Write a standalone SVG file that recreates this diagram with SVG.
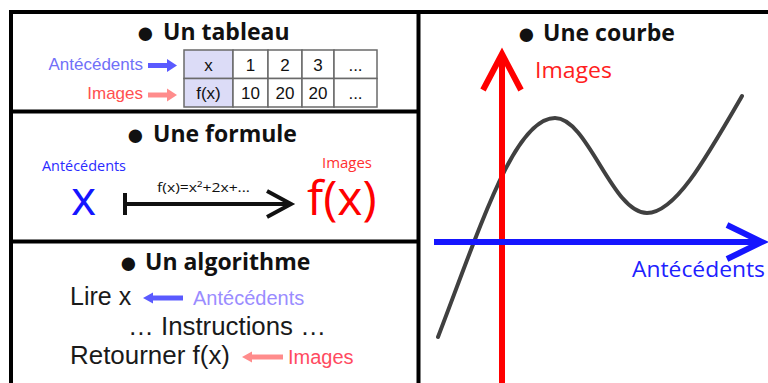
<svg xmlns="http://www.w3.org/2000/svg" width="768" height="383" viewBox="0 0 768 383">
<style>
.frame{fill:none;stroke:#000;stroke-width:4}
.title{font-family:"Open Sans",sans-serif;font-weight:700;font-size:23px;fill:#111}
.bul{font-family:"Liberation Sans",sans-serif;font-weight:400;font-size:31px}
.cell{fill:#fff;stroke:#6a6a6a;stroke-width:1.5}
.cellh{fill:#dcdcf7;stroke:#6a6a6a;stroke-width:1.5}
.ct{font-family:"Liberation Sans",Arial,sans-serif;font-size:17px;fill:#111;text-anchor:middle}
.ar{font-family:"Liberation Sans",Arial,sans-serif}
.os{font-family:"Open Sans",sans-serif}
.algo{font-family:"Liberation Sans",Arial,sans-serif;font-size:25px;fill:#1a1a1a}
</style>

<g id="frame">
<path class="frame" d="M11,383 V12 H768"/>
<line class="frame" x1="418.5" y1="12" x2="418.5" y2="383"/>
<line class="frame" x1="11" y1="111.5" x2="418.5" y2="111.5"/>
<line class="frame" x1="11" y1="241.5" x2="418.5" y2="241.5"/>
</g>

<g id="tableau">
<text class="title" x="136" y="43"><tspan class="bul">●</tspan><tspan x="163" y="40">Un tableau</tspan></text>
<g id="table">
<rect class="cellh" x="184" y="50" width="49" height="28.5"/>
<rect class="cellh" x="184" y="78.5" width="49" height="28.5"/>
<rect class="cell" x="233" y="50" width="35" height="28.5"/>
<rect class="cell" x="268" y="50" width="34" height="28.5"/>
<rect class="cell" x="302" y="50" width="32" height="28.5"/>
<rect class="cell" x="334" y="50" width="43" height="28.5"/>
<rect class="cell" x="233" y="78.5" width="35" height="28.5"/>
<rect class="cell" x="268" y="78.5" width="34" height="28.5"/>
<rect class="cell" x="302" y="78.5" width="32" height="28.5"/>
<rect class="cell" x="334" y="78.5" width="43" height="28.5"/>
<text class="ct" x="208.5" y="71">x</text>
<text class="ct" x="250.5" y="71">1</text>
<text class="ct" x="285" y="71">2</text>
<text class="ct" x="318" y="71">3</text>
<text class="ct" x="355.5" y="71" font-size="13">...</text>
<text class="ct" x="208.5" y="99">f(x)</text>
<text class="ct" x="250.5" y="99">10</text>
<text class="ct" x="285" y="99">20</text>
<text class="ct" x="318" y="99">20</text>
<text class="ct" x="355.5" y="99" font-size="13">...</text>
</g>
<text class="ar" x="143" y="70" font-size="17" fill="#7070f8" text-anchor="end">Antécédents</text>
<text class="ar" x="143" y="99" font-size="17" fill="#ff5050" text-anchor="end">Images</text>
</g>

<g id="formule">
<text class="title" x="126" y="145"><tspan class="bul">●</tspan><tspan x="153" y="142">Une formule</tspan></text>
<text class="os" x="42" y="171" font-size="14" fill="#2a2aff" textLength="84" lengthAdjust="spacingAndGlyphs">Antécédents</text>
<text class="os" x="71" y="215" font-size="48" fill="#1515ff">x</text>
<text class="os" x="322" y="168" font-size="14" fill="#ff3030" textLength="50" lengthAdjust="spacingAndGlyphs">Images</text>
<text class="os" x="307" y="215" font-size="48" fill="#ff0000">f(x)</text>
<text class="os" x="157" y="192" font-size="13" fill="#111" textLength="93" lengthAdjust="spacingAndGlyphs">f(x)=x²+2x+...</text>
</g>

<g id="algorithme">
<text class="title" x="119" y="273"><tspan class="bul">●</tspan><tspan x="145" y="270">Un algorithme</tspan></text>
<text class="algo" x="70" y="305">Lire x</text>
<text class="algo" x="128" y="335" textLength="198" lengthAdjust="spacingAndGlyphs">… Instructions …</text>
<text class="algo" x="70" y="364" textLength="160" lengthAdjust="spacingAndGlyphs">Retourner f(x)</text>
<text class="ar" x="193" y="305" font-size="20" fill="#9a8cff">Antécédents</text>
<text class="ar" x="288" y="364" font-size="20" fill="#ff4a60">Images</text>
</g>

<g id="courbe">
<text class="title" x="517" y="44"><tspan class="bul">●</tspan><tspan x="543" y="41">Une courbe</tspan></text>
<text class="os" x="535" y="78" font-size="21" fill="#ff2020" textLength="77" lengthAdjust="spacingAndGlyphs">Images</text>
<text class="os" x="632" y="277" font-size="22" fill="#2020ff" textLength="133" lengthAdjust="spacingAndGlyphs">Antécédents</text>
<path d="M438,337 C482,222 515,118 555,118 C588,118 612,213 647,213 C675,213 705,160 742,96" fill="none" stroke="#404040" stroke-width="4" stroke-linecap="round"/>
</g>

<g id="connectors">
<path d="M148,65.5 H168" stroke="#5a5aff" stroke-width="5"/>
<polygon points="167,59 177,65.5 167,72" fill="#5a5aff"/>
<path d="M148,95 H168" stroke="#ff8c8c" stroke-width="5"/>
<polygon points="167,88.5 177,95 167,101.5" fill="#ff8c8c"/>
<path d="M125,193 V215 M125,204 H290 M267,191 L291,204 L267,217" fill="none" stroke="#111" stroke-width="4"/>
<path d="M183,298 H152" stroke="#5a5aff" stroke-width="5"/>
<polygon points="153,292.5 143,298 153,303.5" fill="#5a5aff"/>
<path d="M283,357 H251" stroke="#ff8c8c" stroke-width="5"/>
<polygon points="252,351.5 242,357 252,362.5" fill="#ff8c8c"/>
<path d="M502,383 V56 M483,90 L502,54 L521,90" fill="none" stroke="#ff0000" stroke-width="6"/>
<path d="M434,242 H761 M727,225 L762,242 L727,259" fill="none" stroke="#1515ff" stroke-width="6"/>
</g>
</svg>
